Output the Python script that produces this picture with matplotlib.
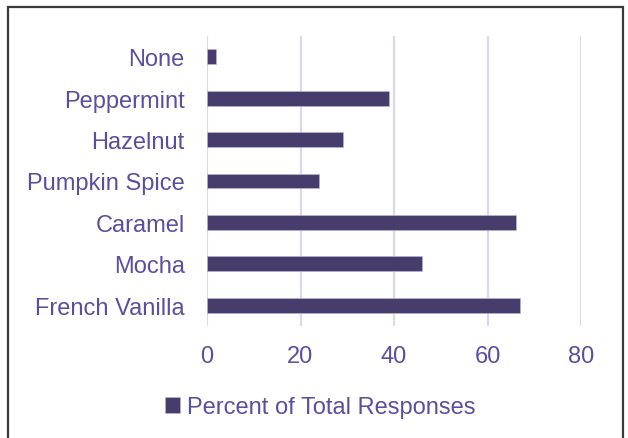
import matplotlib.pyplot as plt
from matplotlib.patches import Rectangle

# ---------------------- Data ----------------------
flavors = ["French Vanilla", "Mocha", "Caramel", "Pumpkin Spice",
           "Hazelnut", "Peppermint", "None"]
percent = [67, 46, 66, 24, 29, 39, 2]
xticks = [0, 20, 40, 60, 80]

bar_color = "#473d6d"
text_color = "#5a4f9f"
grid_color = "#dcd8ec"

plt.rcParams["font.family"] = ["Liberation Sans", "DejaVu Sans"]

fig = plt.figure(figsize=(6.28, 4.39), dpi=100)
ax = fig.add_axes([207 / 628, 1 - 327 / 439, (581 - 207) / 628, (327 - 37) / 439])

bars = ax.barh(range(len(flavors)), percent, height=0.36, color=bar_color,
               edgecolor="#b9b3d6", linewidth=0.5,
               label="Percent of Total Responses", zorder=3)

ax.set_xlim(0, 80)
ax.set_ylim(-0.5, len(flavors) - 0.5)
ax.set_xticks(xticks)
ax.set_yticks(range(len(flavors)))
ax.set_yticklabels(flavors)
ax.tick_params(axis="both", length=0, labelsize=17, labelcolor=text_color)
ax.tick_params(axis="x", pad=14)
ax.tick_params(axis="y", pad=16)
ax.grid(axis="x", color=grid_color, linewidth=1.6, zorder=0)
for s in ax.spines.values():
    s.set_visible(False)

leg = fig.legend(handles=[bars], loc="center", bbox_to_anchor=(320 / 628, 1 - 408 / 439),
                 frameon=False, fontsize=17, handlelength=0.65, handleheight=0.65,
                 handletextpad=0.3, labelcolor=text_color)

# outer chart border
fig.patches.append(Rectangle((8 / 628, -0.01), (623 - 8) / 628, (439 - 8) / 439 + 0.01,
                             transform=fig.transFigure, fill=False,
                             edgecolor="#3a3a3a", linewidth=1.6))

fig.savefig("out.png", dpi=100)
